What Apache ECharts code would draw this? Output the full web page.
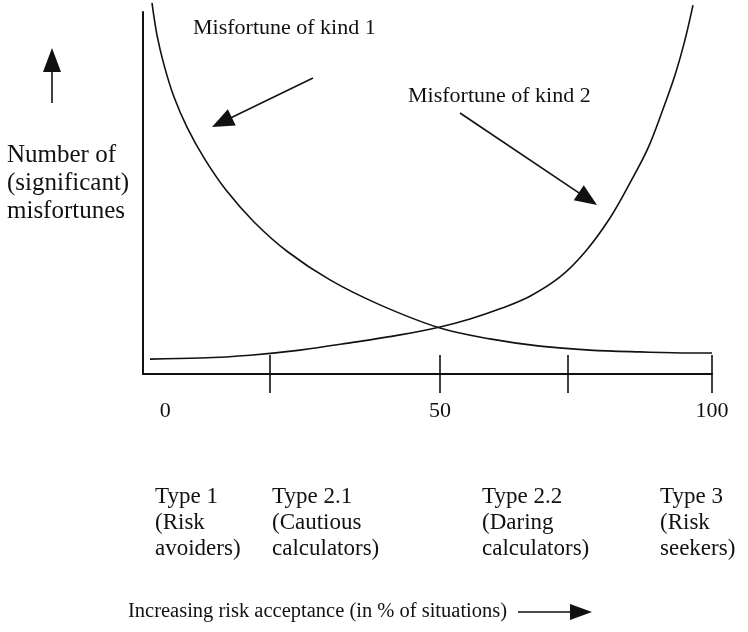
<!DOCTYPE html>
<html>
<head>
<meta charset="utf-8">
<script src="https://cdn.jsdelivr.net/npm/echarts@6/dist/echarts.min.js"></script>
<style>
html,body{margin:0;padding:0;background:#fff;}
#chart{width:748px;height:632px;}
</style>
</head>
<body>
<div id="chart"></div>
<script>
// ---- data (x: % of situations, y: relative number of misfortunes) ----
const kind1X = [1.58, 2.46, 3.69, 5.45, 7.73, 10.72, 14.59, 19.51, 25.48, 32.86, 41.65, 52.20, 60.98, 69.77, 78.56, 87.35, 96.13, 100];
const kind1Y = [102.5, 93.6, 85.4, 76.5, 68.2, 59.7, 50.8, 42.0, 33.7, 26.0, 19.1, 12.7, 9.7, 7.7, 6.6, 6.1, 5.8, 5.8];
const kind2X = [1.23, 10.02, 18.80, 27.59, 36.38, 45.17, 52.20, 57.47, 62.74, 68.01, 73.29, 77.68, 82.07, 85.59, 88.75, 91.21, 93.50, 95.25, 96.66];
const kind2Y = [4.1, 4.4, 5.2, 6.6, 8.6, 10.8, 13.0, 15.2, 18.0, 21.5, 26.8, 33.7, 43.1, 52.8, 62.4, 72.4, 82.6, 92.3, 101.9];
const tickValues = [22.3, 52.2, 74.7, 100];
const tickLabelValues = [3.9, 52.2, 100];
const tickLabels = ['0', '50', '100'];
const typeNames = ['Type 1', 'Type 2.1', 'Type 2.2', 'Type 3'];
const typeDesc1 = ['(Risk', '(Cautious', '(Daring', '(Risk'];
const typeDesc2 = ['avoiders)', 'calculators)', 'calculators)', 'seekers)'];
const typeColX = [155, 272, 482, 660];
const yTitleLines = ['Number of', '(significant)', 'misfortunes'];
const xTitle = 'Increasing risk acceptance (in % of situations)';
const note1 = 'Misfortune of kind 1';
const note2 = 'Misfortune of kind 2';

const FONT = "'Liberation Serif', 'Times New Roman', serif";
const INK = '#111';

const chart = echarts.init(document.getElementById('chart'));

function arrow(x1, y1, x2, y2, headLen, headW) {
  const dx = x2 - x1, dy = y2 - y1, L = Math.sqrt(dx*dx + dy*dy);
  const ux = dx / L, uy = dy / L, px = -uy, py = ux;
  const bx = x2 - ux * headLen, by = y2 - uy * headLen;
  return [
    {type: 'line', shape: {x1: x1, y1: y1, x2: bx + ux*2, y2: by + uy*2}, style: {stroke: INK, lineWidth: 1.6}, silent: true},
    {type: 'polygon', shape: {points: [[x2, y2], [bx + px*headW/2, by + py*headW/2], [bx - px*headW/2, by - py*headW/2]]}, style: {fill: INK}, silent: true}
  ];
}
function txt(x, y, s, fs) {
  return {type: 'text', x: x, y: y, style: {text: s, font: fs + 'px ' + FONT, fill: INK, align: 'left', verticalAlign: 'middle'}, silent: true};
}

const axisCommon = {type: 'value', min: 0, max: 100, splitLine: {show: false}};

chart.setOption({
  animation: false,
  backgroundColor: '#fff',
  grid: {left: 143, right: 36, top: 12, bottom: 258},
  xAxis: [
    Object.assign({}, axisCommon, {
      position: 'bottom',
      axisLine: {show: true, lineStyle: {color: INK, width: 2}},
      axisTick: {show: true, customValues: tickValues, length: 19, lineStyle: {color: INK, width: 1.6}},
      axisLabel: {show: true, customValues: tickLabelValues, margin: 26, color: INK, fontFamily: FONT, fontSize: 22,
        formatter: function (v) { const i = tickLabelValues.indexOf(v); return i >= 0 ? tickLabels[i] : ''; }}
    }),
    Object.assign({}, axisCommon, {
      position: 'bottom',
      axisLine: {show: false},
      axisTick: {show: true, inside: true, customValues: tickValues, length: 19, lineStyle: {color: INK, width: 1.6}},
      axisLabel: {show: false}
    })
  ],
  yAxis: {
    type: 'value', min: 0, max: 100,
    axisLine: {show: true, lineStyle: {color: INK, width: 2}},
    axisTick: {show: false}, axisLabel: {show: false}, splitLine: {show: false}
  },
  series: [
    {name: note1, type: 'line', clip: false, smooth: 0.35, showSymbol: false,
      lineStyle: {color: INK, width: 1.6}, data: kind1X.map((x, i) => [x, kind1Y[i]])},
    {name: note2, type: 'line', clip: false, smooth: 0.35, showSymbol: false,
      lineStyle: {color: INK, width: 1.6}, data: kind2X.map((x, i) => [x, kind2Y[i]])}
  ],
  graphic: [].concat(
    txt(193, 28, note1, 22),
    arrow(313, 78, 212, 127, 22, 18),
    txt(408, 96, note2, 22),
    arrow(460, 113, 597, 205, 22, 18),
    arrow(52, 103, 52, 48, 24, 18),
    yTitleLines.map((s, i) => txt(7, 155 + i * 28, s, 25)),
    typeColX.map((x, i) => txt(x, 497, typeNames[i], 23)),
    typeColX.map((x, i) => txt(x, 523, typeDesc1[i], 23)),
    typeColX.map((x, i) => txt(x, 549, typeDesc2[i], 23)),
    txt(128, 612, xTitle, 20.5),
    arrow(518, 612, 592, 612, 22, 16)
  )
});
</script>
</body>
</html>
